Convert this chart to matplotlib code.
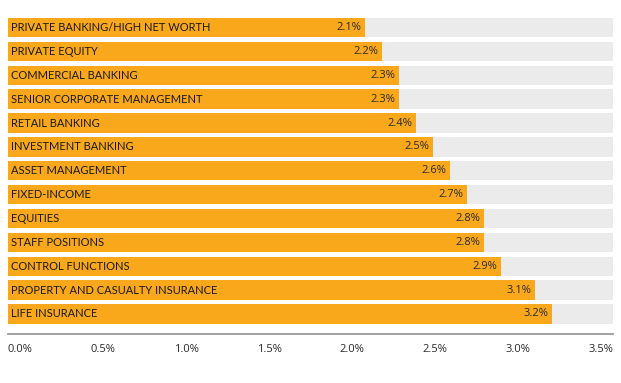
import matplotlib.pyplot as plt

categories = ['PRIVATE BANKING/HIGH NET WORTH', 'PRIVATE EQUITY', 'COMMERCIAL BANKING',
              'SENIOR CORPORATE MANAGEMENT', 'RETAIL BANKING', 'INVESTMENT BANKING',
              'ASSET MANAGEMENT', 'FIXED-INCOME', 'EQUITIES', 'STAFF POSITIONS',
              'CONTROL FUNCTIONS', 'PROPERTY AND CASUALTY INSURANCE', 'LIFE INSURANCE']
values = [2.1, 2.2, 2.3, 2.3, 2.4, 2.5, 2.6, 2.7, 2.8, 2.8, 2.9, 3.1, 3.2]
tick_labels = ['0.0%', '0.5%', '1.0%', '1.5%', '2.0%', '2.5%', '3.0%', '3.5%']

XMAX = 3.56
ORANGE = '#F9A81B'
GREY = '#EBEBEB'

fig = plt.figure(figsize=(6.21, 3.83), dpi=100)
ax = fig.add_axes([8 / 621, 49 / 383, 605 / 621, 316 / 383])

ypos = list(range(len(categories)))
ax.barh(ypos, [XMAX] * len(categories), height=0.81, color=GREY, zorder=1)
ax.barh(ypos, values, height=0.81, color=ORANGE, zorder=2)

for y, cat, v in zip(ypos, categories, values):
    ax.text(0.02, y, cat, ha='left', va='center', fontsize=8, family='Lato',
            color='#1a1a1a', zorder=3)
    ax.text(v - 0.02, y, f'{v:.1f}%', ha='right', va='center', fontsize=8,
            family='Open Sans', color='#2a2a2a', zorder=3)

ax.set_xlim(0, XMAX)
ax.set_ylim(len(categories) - 1 + 0.84, -0.4)
ax.axis('off')

# bottom axis line
ax.axhline(len(categories) - 1 + 0.84, color='#9a9a9a', linewidth=1.3, clip_on=False)

# tick labels spread evenly across the axis width
n = len(tick_labels)
for i, lab in enumerate(tick_labels):
    ax.text(i / (n - 1) * 0.959, -0.05, lab, transform=ax.transAxes, ha='left', va='center',
            fontsize=8, family='Open Sans', color='#2a2a2a')

fig.savefig('out.png', dpi=100)
